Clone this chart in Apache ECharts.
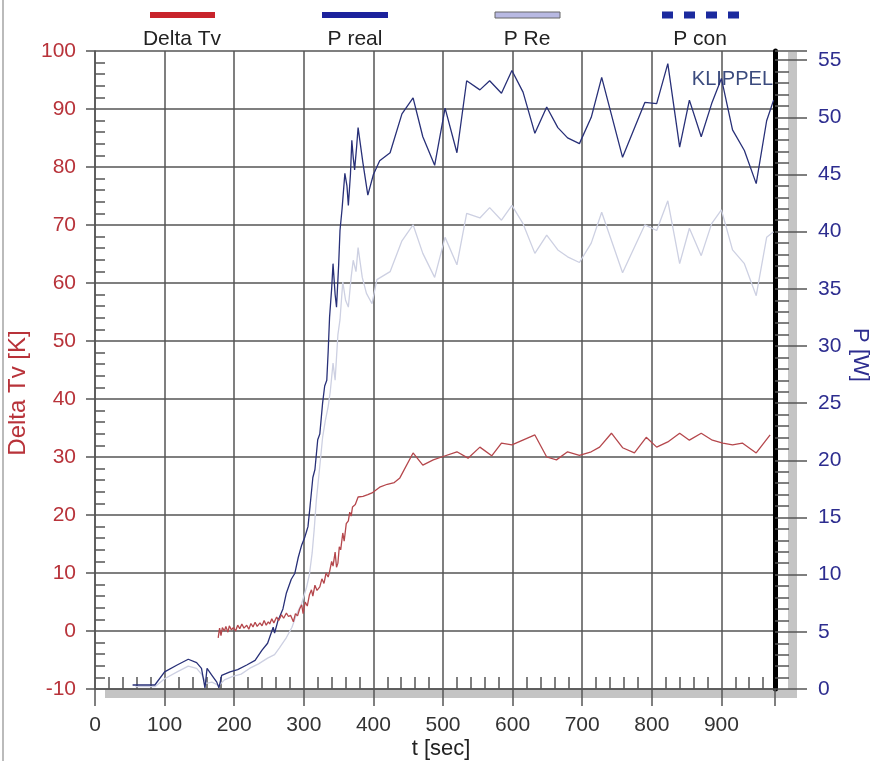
<!DOCTYPE html>
<html>
<head>
<meta charset="utf-8">
<script src="https://cdn.jsdelivr.net/npm/echarts@6/dist/echarts.min.js"></script>
<style>
  html, body { margin: 0; padding: 0; background: #fff; }
  #chart { width: 874px; height: 761px; }
</style>
</head>
<body>
<div id="chart"></div>
<script>
// P real [W] over t [sec]
const tReal = [54, 86, 100, 118, 134, 146, 153, 158, 161, 168, 175, 178, 182, 194, 205, 218, 230, 240, 248, 256, 258, 263, 270, 275, 282, 287, 292, 297, 301, 304, 306, 309, 313, 316, 320, 323, 327, 330, 333, 335, 337, 340, 342, 345, 347, 350, 352, 355, 359, 362, 364, 367, 369, 371, 373, 376, 378, 385, 392, 400, 409, 424, 441, 457, 471, 488, 503, 520, 534, 553, 567, 584, 599, 615, 632, 649, 665, 679, 696, 713, 728, 758, 790, 807, 823, 840, 854, 871, 886, 900, 916, 933, 950, 965, 975]
const pReal = [0.35, 0.35, 1.5, 2.1, 2.6, 2.3, 1.8, 0.1, 1.8, 1.2, 0.6, 0.1, 1.2, 1.5, 1.7, 2.1, 2.5, 3.4, 4.0, 5.4, 4.9, 6.0, 7.0, 8.4, 9.6, 10.1, 11.5, 12.6, 13.2, 13.8, 14.2, 16.0, 18.5, 19.2, 21.8, 22.3, 25.0, 26.5, 27.0, 29.5, 32.5, 35.0, 37.2, 34.5, 33.4, 37.0, 40.1, 42.0, 45.1, 44.0, 42.3, 45.0, 48.0, 46.5, 45.4, 47.5, 49.1, 46.0, 43.2, 45.0, 46.2, 46.9, 50.3, 51.7, 48.3, 45.8, 50.8, 46.9, 53.2, 52.4, 53.2, 52.1, 54.1, 52.2, 48.6, 50.9, 49.1, 48.2, 47.7, 50.0, 53.5, 46.5, 51.3, 51.2, 54.7, 47.4, 51.5, 48.3, 51.2, 53.4, 48.9, 47.1, 44.2, 49.7, 51.5]

// P Re [W]
const tRe = [58, 86, 100, 118, 134, 146, 153, 160, 168, 178, 186, 198, 210, 222, 235, 248, 258, 265, 275, 283, 290, 297, 304, 308, 312, 315, 318, 323, 327, 331, 335, 338, 342, 345, 349, 352, 356, 360, 364, 368, 371, 375, 378, 384, 390, 398, 405, 424, 441, 457, 471, 488, 503, 520, 534, 553, 567, 584, 599, 615, 632, 649, 665, 679, 696, 713, 728, 758, 790, 807, 823, 840, 854, 871, 886, 900, 916, 933, 950, 965, 975]
const pRe = [0.2, 0.2, 0.9, 1.5, 2.0, 1.8, 1.3, 0.5, 0.6, 0.3, 0.8, 1.1, 1.3, 1.8, 2.2, 2.7, 3.0, 3.6, 4.5, 5.4, 6.6, 7.5, 8.9, 10.0, 11.9, 14.0, 16.5, 19.5, 22.0, 23.5, 24.7, 26.0, 28.5, 27.0, 31.0, 32.3, 35.6, 34.0, 33.4, 36.0, 37.5, 36.5, 38.6, 36.0, 34.6, 33.7, 35.8, 36.5, 39.2, 40.6, 38.1, 36.0, 39.5, 37.1, 41.6, 41.2, 42.1, 41.0, 42.3, 40.7, 38.1, 39.7, 38.4, 37.8, 37.3, 39.0, 41.7, 36.4, 40.6, 40.1, 42.7, 37.2, 40.3, 37.9, 40.7, 41.9, 38.4, 37.2, 34.4, 39.5, 40.0]

// Delta Tv [K]
const tDelta = [177, 179, 181, 183, 186, 188, 191, 193, 196, 199, 202, 205, 208, 211, 214, 218, 221, 224, 227, 230, 233, 237, 240, 243, 246, 249, 251, 254, 257, 261, 264, 268, 271, 275, 278, 281, 285, 288, 291, 294, 297, 299, 302, 305, 308, 311, 313, 316, 319, 323, 326, 329, 332, 335, 337, 340, 342, 345, 347, 349, 351, 353, 356, 358, 361, 364, 366, 368, 370, 374, 378, 385, 392, 398, 409, 420, 430, 438, 457, 471, 486, 498, 520, 536, 553, 570, 584, 599, 632, 649, 663, 679, 696, 713, 725, 742, 758, 775, 792, 807, 823, 840, 854, 871, 887, 902, 916, 930, 950, 970]
const delta = [-1.2, 0.5, -0.8, 0.6, 0.0, 0.8, -0.2, 0.9, 0.2, 0.6, 0.0, 1.0, 0.4, 1.2, 0.5, 1.0, 0.3, 1.3, 0.7, 1.5, 0.8, 1.4, 0.9, 1.8, 1.0, 1.6, 1.2, 2.1, 1.4, 2.4, 1.8, 2.8, 2.2, 3.1, 2.5, 2.7, 1.6, 3.0, 2.6, 3.8, 4.5, 3.0, 5.0, 4.3, 6.2, 7.1, 6.0, 7.9, 7.0, 7.6, 9.0, 8.2, 10.0, 9.3, 10.2, 12.0, 11.2, 13.6, 11.0, 11.7, 14.5, 14.0, 16.9, 15.5, 18.5, 19.0, 20.5, 19.8, 21.4, 21.8, 23.1, 23.2, 23.5, 23.8, 24.8, 25.3, 25.6, 26.4, 30.7, 28.6, 29.5, 30.0, 30.9, 29.8, 31.7, 30.2, 32.4, 32.1, 33.8, 30.0, 29.5, 30.9, 30.3, 30.9, 31.7, 34.1, 31.6, 30.7, 33.4, 31.7, 32.6, 34.1, 32.9, 34.1, 32.9, 32.4, 32.1, 32.4, 30.7, 33.8]

const legendNames = ['Delta Tv', 'P real', 'P Re', 'P con']

const zip = (xs, ys) => xs.map((x, i) => [x, ys[i]])

const gridColor = '#555'
const redText = '#b8333a'
const blueText = '#2d2d8f'
const font = 'Liberation Sans, Arial, sans-serif'

const chart = echarts.init(document.getElementById('chart'))

const option = {
  animation: false,
  backgroundColor: '#fff',
  textStyle: { fontFamily: font },
  grid: { left: 95, right: 99, top: 51, bottom: 72, containLabel: false },
  xAxis: {
    type: 'value',
    min: 0,
    max: 977,
    interval: 100,
    axisLine: { show: true, onZero: false, lineStyle: { color: gridColor, width: 1.5 } },
    axisTick: { show: true, length: 17, lineStyle: { color: gridColor, width: 1.5 } },
    minorTick: { show: true, splitNumber: 5, length: -12, lineStyle: { color: gridColor, width: 1.5 } },
    splitLine: { show: true, lineStyle: { color: gridColor, width: 1.5 } },
    axisLabel: {
      margin: 26, fontSize: 21, color: '#333',
      formatter: v => (v % 100 === 0 ? String(v) : '')
    }
  },
  yAxis: [
    {
      type: 'value',
      position: 'left',
      min: -10,
      max: 100,
      interval: 10,
      axisLine: { show: true, onZero: false, lineStyle: { color: gridColor, width: 1.5 } },
      axisTick: { show: true, length: 9, lineStyle: { color: gridColor, width: 1.5 } },
      minorTick: { show: true, splitNumber: 5, length: -10, lineStyle: { color: gridColor, width: 1.5 } },
      splitLine: { show: true, lineStyle: { color: gridColor, width: 1.5 } },
      axisLabel: { margin: 19, fontSize: 21, color: redText }
    },
    {
      type: 'value',
      position: 'right',
      min: 0,
      max: 55.8,
      interval: 5,
      axisLine: { show: true, onZero: false, lineStyle: { color: '#000', width: 5 } },
      axisTick: { show: true, length: 32, lineStyle: { color: gridColor, width: 1.5 } },
      minorTick: { show: true, splitNumber: 5, length: 14, lineStyle: { color: gridColor, width: 1.5 } },
      splitLine: { show: false },
      axisLabel: {
        margin: 43, fontSize: 21, color: blueText,
        formatter: v => (v % 5 === 0 ? String(v) : '')
      }
    }
  ],
  series: [
    {
      name: 'P Re', type: 'line', yAxisIndex: 1, showSymbol: false,
      lineStyle: { color: '#cdd0e2', width: 1.3 }, data: zip(tRe, pRe)
    },
    {
      name: 'P real', type: 'line', yAxisIndex: 1, showSymbol: false,
      lineStyle: { color: '#283078', width: 1.3 }, data: zip(tReal, pReal)
    },
    {
      name: 'Delta Tv', type: 'line', yAxisIndex: 0, showSymbol: false,
      lineStyle: { color: '#b5474c', width: 1.3 }, data: zip(tDelta, delta)
    }
  ],
  graphic: [
    // grey shadow bands along bottom and right
    { type: 'rect', z: -1, shape: { x: 105, y: 689, width: 692, height: 9 }, style: { fill: '#c4c4c4' } },
    { type: 'rect', z: -1, shape: { x: 788, y: 52, width: 9, height: 646 }, style: { fill: '#c4c4c4' } },
    { type: 'rect', z: -1, shape: { x: 2, y: 0, width: 2, height: 761 }, style: { fill: '#bbb' } },

    // legend: icon above label
    { type: 'rect', shape: { x: 150, y: 12, width: 65, height: 6 }, style: { fill: '#c8232b' } },
    { type: 'rect', shape: { x: 322, y: 12, width: 66, height: 6 }, style: { fill: '#1c229c' } },
    { type: 'rect', shape: { x: 495, y: 12, width: 65, height: 6 }, style: { fill: '#b8b9e2', stroke: '#666', lineWidth: 1 } },
    { type: 'line', shape: { x1: 662, y1: 15, x2: 742, y2: 15 }, style: { stroke: '#1b2a9e', lineWidth: 7, lineDash: [11, 11] } },
    { type: 'text', x: 182, y: 39, style: { text: legendNames[0], font: '21px ' + font, fill: '#222', align: 'center', verticalAlign: 'middle' } },
    { type: 'text', x: 355, y: 39, style: { text: legendNames[1], font: '21px ' + font, fill: '#222', align: 'center', verticalAlign: 'middle' } },
    { type: 'text', x: 527, y: 39, style: { text: legendNames[2], font: '21px ' + font, fill: '#222', align: 'center', verticalAlign: 'middle' } },
    { type: 'text', x: 700, y: 39, style: { text: legendNames[3], font: '21px ' + font, fill: '#222', align: 'center', verticalAlign: 'middle' } },

    // watermark
    { type: 'text', x: 773, y: 79, style: { text: 'KLIPPEL', font: '20px ' + font, fill: '#3b4b7e', align: 'right', verticalAlign: 'middle' } },

    // axis titles
    { type: 'text', x: 18, y: 393, rotation: Math.PI / 2, style: { text: 'Delta Tv [K]', font: '24px ' + font, fill: redText, align: 'center', verticalAlign: 'middle' } },
    { type: 'text', x: 860, y: 355, rotation: -Math.PI / 2, style: { text: 'P [W]', font: '22px ' + font, fill: blueText, align: 'center', verticalAlign: 'middle' } },
    { type: 'text', x: 441, y: 749, style: { text: 't [sec]', font: '22px ' + font, fill: '#222', align: 'center', verticalAlign: 'middle' } }
  ]
}

chart.setOption(option)
</script>
</body>
</html>
